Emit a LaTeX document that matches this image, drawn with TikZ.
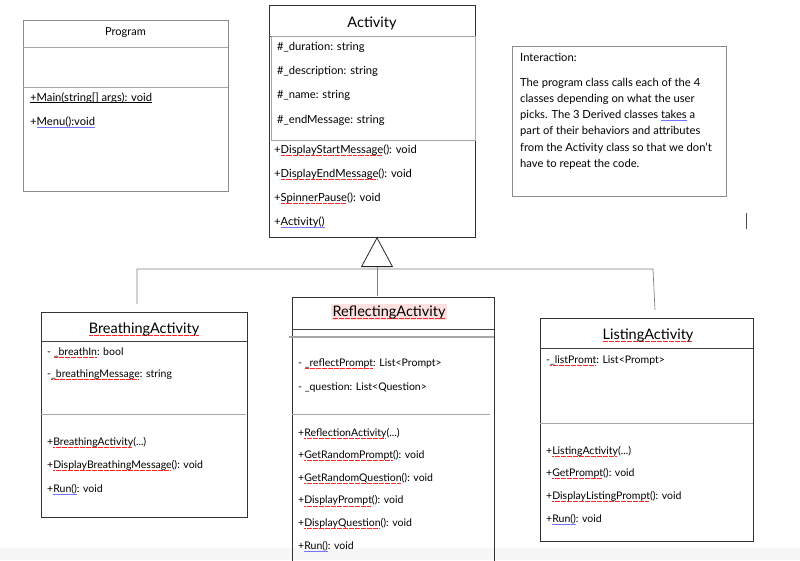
\documentclass[tikz,border=0pt]{standalone}
\usepackage{fontspec}
\setmainfont{Lato}
\usetikzlibrary{arrows.meta}

\tikzstyle{classbox} = [draw=black!80, line width=0.8pt, rectangle, anchor=north west, inner sep=0pt]
\tikzstyle{notebox} = [draw=black!45, line width=0.8pt, rectangle, anchor=north west, inner sep=0pt]
\tikzstyle{divider} = [draw=black!75, line width=0.7pt]
\tikzstyle{softdivider} = [draw=black!35, line width=0.8pt]
\tikzstyle{classname} = [inner sep=0pt, anchor=base, font=\fontsize{14.5}{17}\selectfont]
\tikzstyle{member} = [inner sep=0pt, anchor=base west, font=\fontsize{10.5}{12}\selectfont]
\tikzstyle{bigmember} = [member, font=\fontsize{11.2}{13}\selectfont]
\tikzstyle{inherit} = [draw=black!50, line width=0.7pt]

% spell-check marks of the word processor
\newsavebox\markbox
\newcommand\redwave[1]{\sbox\markbox{#1}\rlap{\textcolor{red!85}{\hbox to\wd\markbox{\leaders\hbox{\rule[-2.3pt]{0.7pt}{0.6pt}\kern0.5pt}\hfil}}}\usebox\markbox}
\newcommand\blueline[1]{\sbox\markbox{#1}\rlap{\textcolor{blue!55}{\rule[-2.3pt]{\wd\markbox}{0.8pt}}}\usebox\markbox}
\newcommand\blackline[1]{\sbox\markbox{#1}\rlap{\rule[-1.6pt]{\wd\markbox}{0.5pt}}\usebox\markbox}
\newcommand\etcdots{...}

\begin{document}
\begin{tikzpicture}[x=1pt, y=-1pt]
\useasboundingbox (0,0) rectangle (800,560);
\fill[black!3] (0,548) rectangle (800,560);

% Program
\node[notebox, minimum width=205, minimum height=171] (prog) at (23,20) {};
\node[classname, font=\fontsize{11}{13}\selectfont] (progname) at (125.5,35) {Program};
\draw[softdivider] (23,47) -- (228,47);
\draw[softdivider] (23,87) -- (228,87);
\node[bigmember] (main) at (30,101) {\blackline{+Main(string[] args): void}};
\node[bigmember] (menu) at (30,125) {+\blueline{Menu():void}};

% Activity
\node[classbox, minimum width=206, minimum height=232] (act) at (269,5) {};
\node[classname] (actname) at (372,27) {Activity};
\draw[divider] (269,36) -- (475,36);
\draw[softdivider] (271,36) rectangle (475,140);
\foreach \txt [count=\i] in {\#\_duration: string, \#\_description: string, \#\_name: string, \#\_endMessage: string}
  \node[bigmember] (actattr\i) at (277,{50+24.4*(\i-1)}) {\txt};
\foreach \txt [count=\i] in {{+\redwave{DisplayStartMessage}(): void}, {+\redwave{DisplayEndMessage}(): void}, {+\redwave{SpinnerPause}(): void}, {+\blueline{Activity()}}}
  \node[bigmember] (actop\i) at (274,{153+24.3*(\i-1)}) {\txt};

% Interaction note
\node[notebox, minimum width=214, minimum height=150] (inter) at (512,46) {};
\node[bigmember] (intertitle) at (520,61) {Interaction:};
\foreach \txt [count=\i] in {The program class calls each of the 4, classes depending on what the user, {picks. The 3 Derived classes \blueline{takes} a}, part of their behaviors and attributes, from the Activity class so that we don’t, have to repeat the code.}
  \node[bigmember] (interline\i) at (520,{86+16.3*(\i-1)}) {\txt};
\draw[black!70, line width=0.8pt] (746,213) -- (746,229);

% BreathingActivity
\node[classbox, minimum width=206, minimum height=205] (breath) at (41,312) {};
\node[classname] (breathname) at (144,333) {\redwave{BreathingActivity}};
\draw[divider] (41,341) -- (247,341);
\draw[softdivider] (41,414) -- (246,414);
\node[member] (breathattr1) at (47,355) {- \redwave{\_breathIn}: bool};
\node[member] (breathattr2) at (47,377) {-\redwave{\_breathingMessage}: string};
\foreach \txt [count=\i] in {{+\redwave{BreathingActivity}(\etcdots)}, {+\redwave{DisplayBreathingMessage}(): void}, {+\blueline{Run()}: void}}
  \node[member] (breathop\i) at (47,{445+23.5*(\i-1)}) {\txt};

% ReflectingActivity
\node[classbox, minimum width=202, minimum height=268] (reflect) at (292,297) {};
\node[classname, fill=red!12, inner sep=1.5pt] (reflectname) at (389,316) {\redwave{ReflectingActivity}};
\draw[divider] (292,329) -- (494,329);
\draw[softdivider, line width=1.4pt] (289,337) -- (494,337);
\draw[softdivider] (292,414) -- (490,414);
\node[member] (reflectattr1) at (298,366) {- \redwave{\_reflectPrompt}: List<Prompt>};
\node[member] (reflectattr2) at (298,390) {- \_question: List<Question>};
\foreach \txt [count=\i] in {{+\redwave{ReflectionActivity}(\etcdots)}, {+\redwave{GetRandomPrompt}(): void}, {+\redwave{GetRandomQuestion}(): void}, {+\redwave{DisplayPrompt}(): void}, {+\redwave{DisplayQuestion}(): void}, {+\blueline{Run()}: void}}
  \node[member] (reflectop\i) at (298,{436+22.6*(\i-1)}) {\txt};

% ListingActivity
\node[classbox, minimum width=213, minimum height=223] (listing) at (540,318) {};
\node[classname] (listingname) at (648,339) {\redwave{ListingActivity}};
\draw[divider] (540,348) -- (753,348);
\draw[softdivider] (540,423) -- (753,423);
\node[member] (listingattr1) at (546,363) {-\redwave{\_listPromt}: List<Prompt>};
\foreach \txt [count=\i] in {{+\redwave{ListingActivity}(\etcdots)}, {+\redwave{GetPrompt}(): void}, {+\redwave{DisplayListingPrompt}(): void}, {+\blueline{Run()}: void}}
  \node[member] (listingop\i) at (546,{454+22.7*(\i-1)}) {\txt};

% generalization
\coordinate (apex) at (377,237);
\coordinate (midend) at (377,296);
\coordinate (busleft) at (137,269);
\coordinate (busright) at (653,269);
\coordinate (leftend) at (137,304);
\coordinate (rightend) at (655,310);
\draw[inherit] (leftend) -- (busleft) -- (busright) -- (rightend);
\draw[inherit, -{Triangle[open, length=30pt, width=32pt, line width=0.8pt, color=black!85]}] (midend) -- (apex);
\end{tikzpicture}
\end{document}
